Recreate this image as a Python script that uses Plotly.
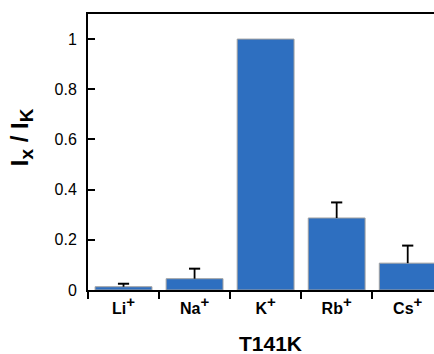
import plotly.graph_objects as go

categories = ["Li", "Na", "K", "Rb", "Cs"]
values = [0.013, 0.045, 1.0, 0.287, 0.107]
errors = [0.012, 0.04, 0.0, 0.062, 0.07]
y_ticks = [0, 0.2, 0.4, 0.6, 0.8, 1]
y_ticktext = ["0", "0.2", "0.4", "0.6", "0.8", "1"]

x = list(range(len(categories)))
FONT = "Arial, Liberation Sans, sans-serif"

fig = go.Figure()
fig.add_trace(go.Bar(
    x=x, y=values, width=0.8,
    marker=dict(color="#2e6fc0", line=dict(color="#a0a0a0", width=1)),
))

# one-sided (upper) error bars: stem from bar top to value+error, cap at top
ex, ey, cx, cy = [], [], [], []
for xi, v, e in zip(x, values, errors):
    if e > 0:
        ex += [xi, xi, None]
        ey += [v, v + e, None]
        cx.append(xi)
        cy.append(v + e)
fig.add_trace(go.Scatter(x=ex, y=ey, mode="lines", line=dict(color="black", width=1.8),
                         hoverinfo="skip"))
fig.add_trace(go.Scatter(x=cx, y=cy, mode="markers",
                         marker=dict(symbol="line-ew", size=8, line=dict(color="black", width=2)),
                         hoverinfo="skip"))

def lab(c):
    return "<b>%s<sup><span style='font-size:15px'>+</span></sup></b>" % c

fig.update_layout(
    width=434, height=354,
    margin=dict(l=88, r=0, t=14, b=64),
    plot_bgcolor="white", paper_bgcolor="white",
    showlegend=False,
    font=dict(family=FONT, color="black"),
    xaxis=dict(
        range=[-0.5, 4.37],
        tickmode="array", tickvals=x, ticktext=[lab(c) for c in categories],
        ticks="", showline=True, linecolor="black", linewidth=2, mirror=True,
        showgrid=False, zeroline=False,
        tickfont=dict(size=16, family=FONT),
        ticklabelstandoff=3,
        minor=dict(ticks="outside", tick0=0.5, dtick=1, ticklen=7, tickwidth=2, tickcolor="black", showgrid=False),
    ),
    yaxis=dict(
        range=[0, 1.1],
        tickmode="array", tickvals=y_ticks, ticktext=y_ticktext,
        ticks="inside", ticklen=7, tickwidth=1.5, tickcolor="black",
        showline=True, linecolor="black", linewidth=2,
        showgrid=False, zeroline=False,
        tickfont=dict(size=16, family=FONT),
        ticklabelstandoff=6,
    ),
    annotations=[
        dict(text="<b>T141K</b>", xref="x", yref="paper", x=2.07, y=-0.193,
             xanchor="center", yanchor="middle", showarrow=False, font=dict(size=21, family=FONT)),
        dict(text="<b>I<sub><span style='font-size:19px'>x</span></sub> / I<sub><span style='font-size:19px'>K</span></sub></b>",
             xref="paper", yref="y", x=-0.19, y=0.61,
             xanchor="center", yanchor="middle", textangle=-90, showarrow=False, font=dict(size=24, family=FONT)),
    ],
)

fig.write_html("out.html")
